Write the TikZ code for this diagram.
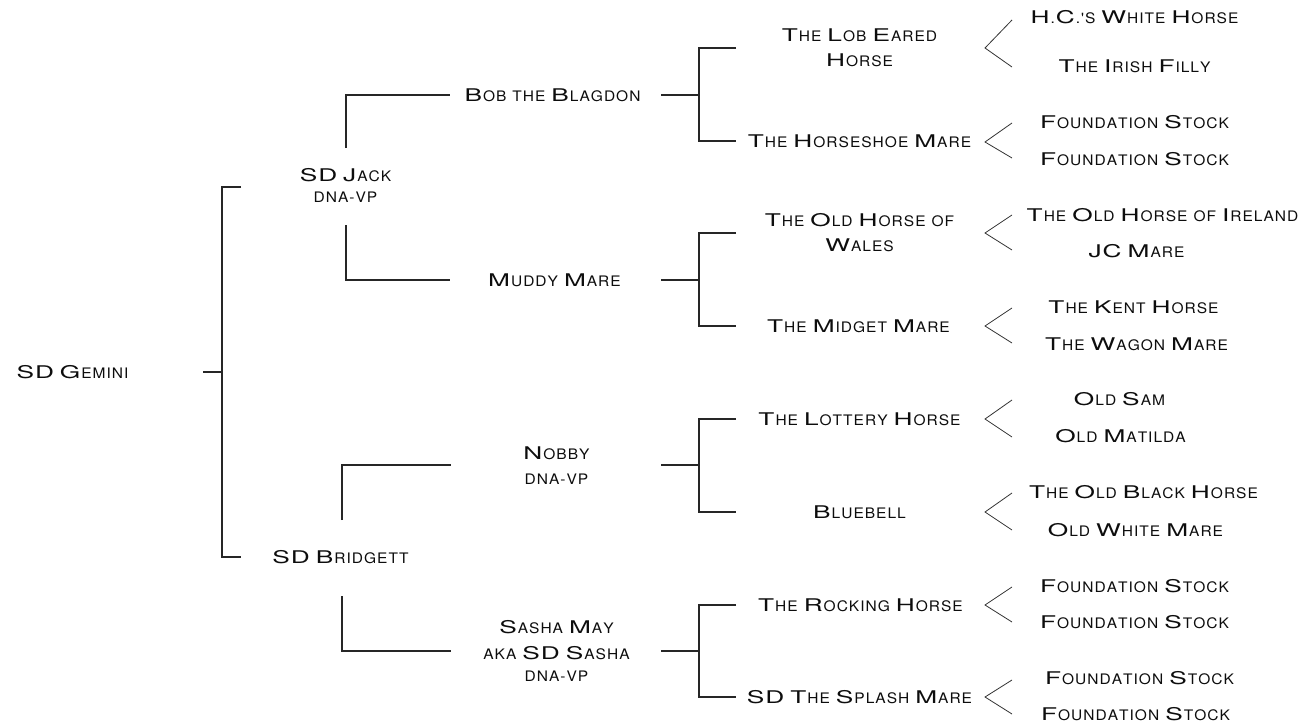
\documentclass[tikz,border=0pt]{standalone}
\usepackage{fontspec}
\setmainfont{TeX Gyre Heros}
\newfontfamily\fscbig{TeX Gyre Heros}[FakeStretch=1.5]
\newfontfamily\fscsmall{TeX Gyre Heros}[FakeStretch=1.07]
\ExplSyntaxOn
\cs_new_protected:Npn \fsc_char:n #1
  {
    \str_if_eq:nnTF {#1} {~}
      { \skip_horizontal:n {5pt} }
      {
        \int_compare:nTF { `A <= `#1 <= `Z }
          { { \fscbig \fontsize{17.5}{25} \selectfont #1 } \kern 1pt }
          { { \fscsmall \fontsize{14.5}{25} \selectfont \text_uppercase:n {#1} } \kern 1pt }
      }
  }
\NewDocumentCommand \fsc { m }
  { \str_map_inline:nn {#1} { \fsc_char:n {##1} } }
\ExplSyntaxOff
\begin{document}
\begin{tikzpicture}[x=1pt,y=-1pt,
  lbl/.style={font=\fontsize{18}{25}\selectfont, inner sep=0pt, align=center, text=black!95},
  ln/.style={line width=1.1pt, draw=black!85},
  ang/.style={line width=0.8pt, draw=black!80}]
\useasboundingbox (0,0) rectangle (1301,726);
% level 0
\node[lbl] (gemini) at (73,372) {\fsc{SD Gemini}};
% level 1
\node[lbl] (jack) at (346,175) {\fsc{SD Jack}};
\node[lbl] (jackdna) at (346,197) {\fsc{dna-vp}};
\node[lbl] (bridgett) at (341,557) {\fsc{SD Bridgett}};
% level 2
\node[lbl] (bob) at (553,95) {\fsc{Bob the Blagdon}};
\node[lbl] (muddy) at (555,280) {\fsc{Muddy Mare}};
\node[lbl] (nobby) at (557,453) {\fsc{Nobby}};
\node[lbl] (nobbydna) at (557,479) {\fsc{dna-vp}};
\node[lbl] (sasha) at (557,627) {\fsc{Sasha May}};
\node[lbl] (sashaaka) at (557,653) {\fsc{aka SD Sasha}};
\node[lbl] (sashadna) at (557,676) {\fsc{dna-vp}};
% level 3
\node[lbl] (lob) at (860,47.5) {\fsc{The Lob Eared}\\\fsc{Horse}};
\node[lbl] (horseshoe) at (860,141) {\fsc{The Horseshoe Mare}};
\node[lbl] (wales) at (860,233) {\fsc{The Old Horse of}\\\fsc{Wales}};
\node[lbl] (midget) at (859,326) {\fsc{The Midget Mare}};
\node[lbl] (lottery) at (860,419) {\fsc{The Lottery Horse}};
\node[lbl] (bluebell) at (860,512) {\fsc{Bluebell}};
\node[lbl] (rocking) at (861,605) {\fsc{The Rocking Horse}};
\node[lbl] (splash) at (860,697) {\fsc{SD The Splash Mare}};
% level 4
\node[lbl] (hc) at (1135,17) {\fsc{H.C.'s White Horse}};
\node[lbl] (irish) at (1135,66) {\fsc{The Irish Filly}};
\node[lbl] (fs1) at (1135,122) {\fsc{Foundation Stock}};
\node[lbl] (fs2) at (1135,159) {\fsc{Foundation Stock}};
\node[lbl] (ireland) at (1163,215) {\fsc{The Old Horse of Ireland}};
\node[lbl] (jc) at (1137,251) {\fsc{JC Mare}};
\node[lbl] (kent) at (1134,307) {\fsc{The Kent Horse}};
\node[lbl] (wagon) at (1137,344) {\fsc{The Wagon Mare}};
\node[lbl] (sam) at (1120,399) {\fsc{Old Sam}};
\node[lbl] (matilda) at (1121,436) {\fsc{Old Matilda}};
\node[lbl] (black) at (1144,492) {\fsc{The Old Black Horse}};
\node[lbl] (white) at (1136,530) {\fsc{Old White Mare}};
\node[lbl] (fs3) at (1135,586) {\fsc{Foundation Stock}};
\node[lbl] (fs4) at (1135,622) {\fsc{Foundation Stock}};
\node[lbl] (fs5) at (1140,678) {\fsc{Foundation Stock}};
\node[lbl] (fs6) at (1136,714) {\fsc{Foundation Stock}};
% connector points
\coordinate (g0) at (203,372);
\coordinate (g1) at (222,372);
\coordinate (gt) at (222,187);
\coordinate (gb) at (222,557);
\coordinate (gt1) at (241,187);
\coordinate (gb1) at (241,557);
\draw[ln] (g0) -- (g1);
\draw[ln] (gt1) -- (gt) -- (gb) -- (gb1);
% SD Jack
\coordinate (j1) at (346,148);
\coordinate (j2) at (346,95);
\coordinate (j3) at (450,95);
\coordinate (j4) at (346,225);
\coordinate (j5) at (346,280);
\coordinate (j6) at (450,280);
\draw[ln] (j1) -- (j2) -- (j3);
\draw[ln] (j4) -- (j5) -- (j6);
% SD Bridgett
\coordinate (b1) at (342,520);
\coordinate (b2) at (342,465);
\coordinate (b3) at (451,465);
\coordinate (b4) at (342,596);
\coordinate (b5) at (342,651);
\coordinate (b6) at (451,651);
\draw[ln] (b1) -- (b2) -- (b3);
\draw[ln] (b4) -- (b5) -- (b6);
% level 2 -> 3 brackets
\foreach \n/\yc/\yt/\yb in {bob/95/48/141, muddy/280/233/326, nobby/465/419/512, sasha/651/605/697}{
  \coordinate (\n-s) at (661,\yc);
  \coordinate (\n-m) at (699,\yc);
  \coordinate (\n-t) at (699,\yt);
  \coordinate (\n-b) at (699,\yb);
  \coordinate (\n-te) at (736,\yt);
  \coordinate (\n-be) at (736,\yb);
  \draw[ln] (\n-s) -- (\n-m);
  \draw[ln] (\n-te) -- (\n-t) -- (\n-b) -- (\n-be);
}
% angle brackets
\foreach \n/\yv/\yt/\yb in {lob/48/20/67, horseshoe/142/123/158, wales/233/215/250, midget/326/308/343, lottery/419/400/437, bluebell/512/493/530, rocking/605/587/622, splash/697/680/714}{
  \coordinate (\n-v) at (985,\yv);
  \coordinate (\n-u) at (1012,\yt);
  \coordinate (\n-d) at (1012,\yb);
  \draw[ang] (\n-u) -- (\n-v) -- (\n-d);
}
\end{tikzpicture}
\end{document}
